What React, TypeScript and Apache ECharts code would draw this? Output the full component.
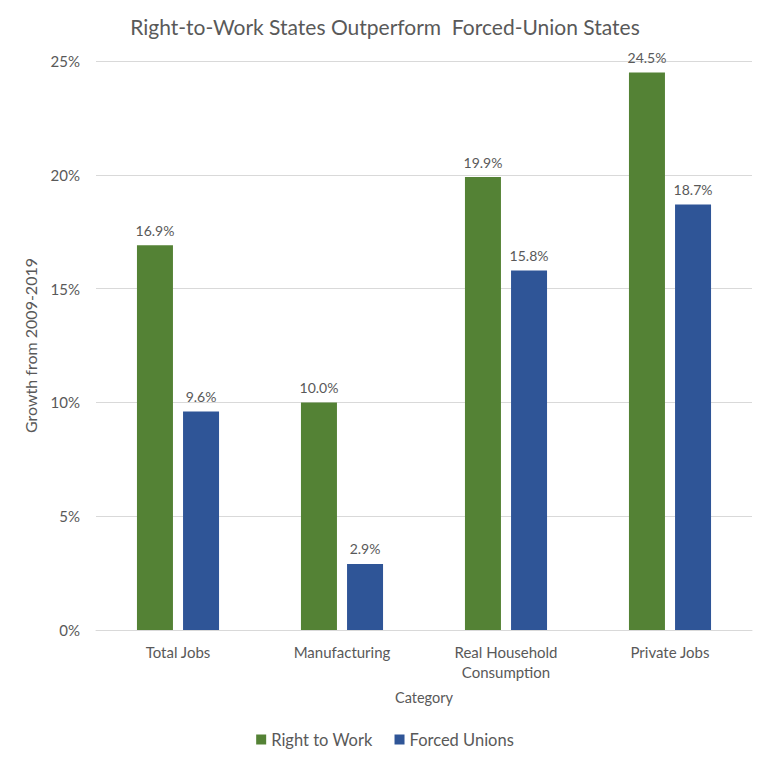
import React, { useEffect, useRef } from "react";
import * as echarts from "echarts";

const categories = ["Total Jobs", "Manufacturing", "Real Household\nConsumption", "Private Jobs"];
const rightToWork = [16.9, 10.0, 19.9, 24.5];
const forcedUnions = [9.6, 2.9, 15.8, 18.7];
const yTicks = [0, 5, 10, 15, 20, 25];

const FONT = "Lato, 'Open Sans', sans-serif";
const GRAY = "#595959";

export default function App() {
  const ref = useRef<HTMLDivElement>(null);
  useEffect(() => {
    document.body.style.margin = "0";
    const chart = echarts.init(ref.current!, null, { renderer: "svg" });
    chart.setOption({
      animation: false,
      backgroundColor: "#ffffff",
      textStyle: { fontFamily: FONT, color: GRAY },
      title: {
        text: "Right-to-Work States Outperform  Forced-Union States",
        left: "center",
        top: 11,
        textStyle: { fontFamily: FONT, fontSize: 21, fontWeight: "normal", color: GRAY },
      },
      grid: { left: 96, right: 18, top: 61, bottom: 140 },
      legend: {
        bottom: 17,
        left: "center",
        itemWidth: 10,
        itemHeight: 10,
        itemGap: 22,
        icon: "rect",
        textStyle: { fontFamily: FONT, fontSize: 16.5, color: GRAY },
        data: ["Right to Work", "Forced Unions"],
      },
      xAxis: {
        type: "category",
        data: categories,
        name: "Category",
        nameLocation: "middle",
        nameGap: 60,
        nameTextStyle: { fontFamily: FONT, fontSize: 14.5, color: GRAY },
        axisLine: { lineStyle: { color: "#d9d9d9" } },
        axisTick: { show: false },
        axisLabel: { fontFamily: FONT, fontSize: 15, color: GRAY, lineHeight: 20, margin: 12 },
      },
      yAxis: {
        type: "value",
        min: yTicks[0],
        max: yTicks[yTicks.length - 1],
        interval: 5,
        name: "Growth from 2009-2019",
        nameLocation: "middle",
        nameGap: 58,
        nameTextStyle: { fontFamily: FONT, fontSize: 16, color: GRAY },
        axisLine: { show: false },
        axisTick: { show: false },
        splitLine: { lineStyle: { color: "#d9d9d9" } },
        axisLabel: { formatter: "{value}%", fontFamily: FONT, fontSize: 15, color: GRAY, margin: 16 },
      },
      series: [
        {
          name: "Right to Work",
          type: "bar",
          data: rightToWork,
          barWidth: 36,
          barGap: "28%",
          itemStyle: { color: "#548235" },
          label: {
            show: true,
            position: "top",
            distance: 8,
            formatter: (p: any) => p.value.toFixed(1) + "%",
            fontFamily: FONT,
            fontSize: 14,
            color: GRAY,
          },
        },
        {
          name: "Forced Unions",
          type: "bar",
          data: forcedUnions,
          barWidth: 36,
          itemStyle: { color: "#2F5597" },
          label: {
            show: true,
            position: "top",
            distance: 8,
            formatter: (p: any) => p.value.toFixed(1) + "%",
            fontFamily: FONT,
            fontSize: 14,
            color: GRAY,
          },
        },
      ],
    });
    return () => chart.dispose();
  }, []);
  return <div ref={ref} style={{ width: 770, height: 770 }} />;
}
